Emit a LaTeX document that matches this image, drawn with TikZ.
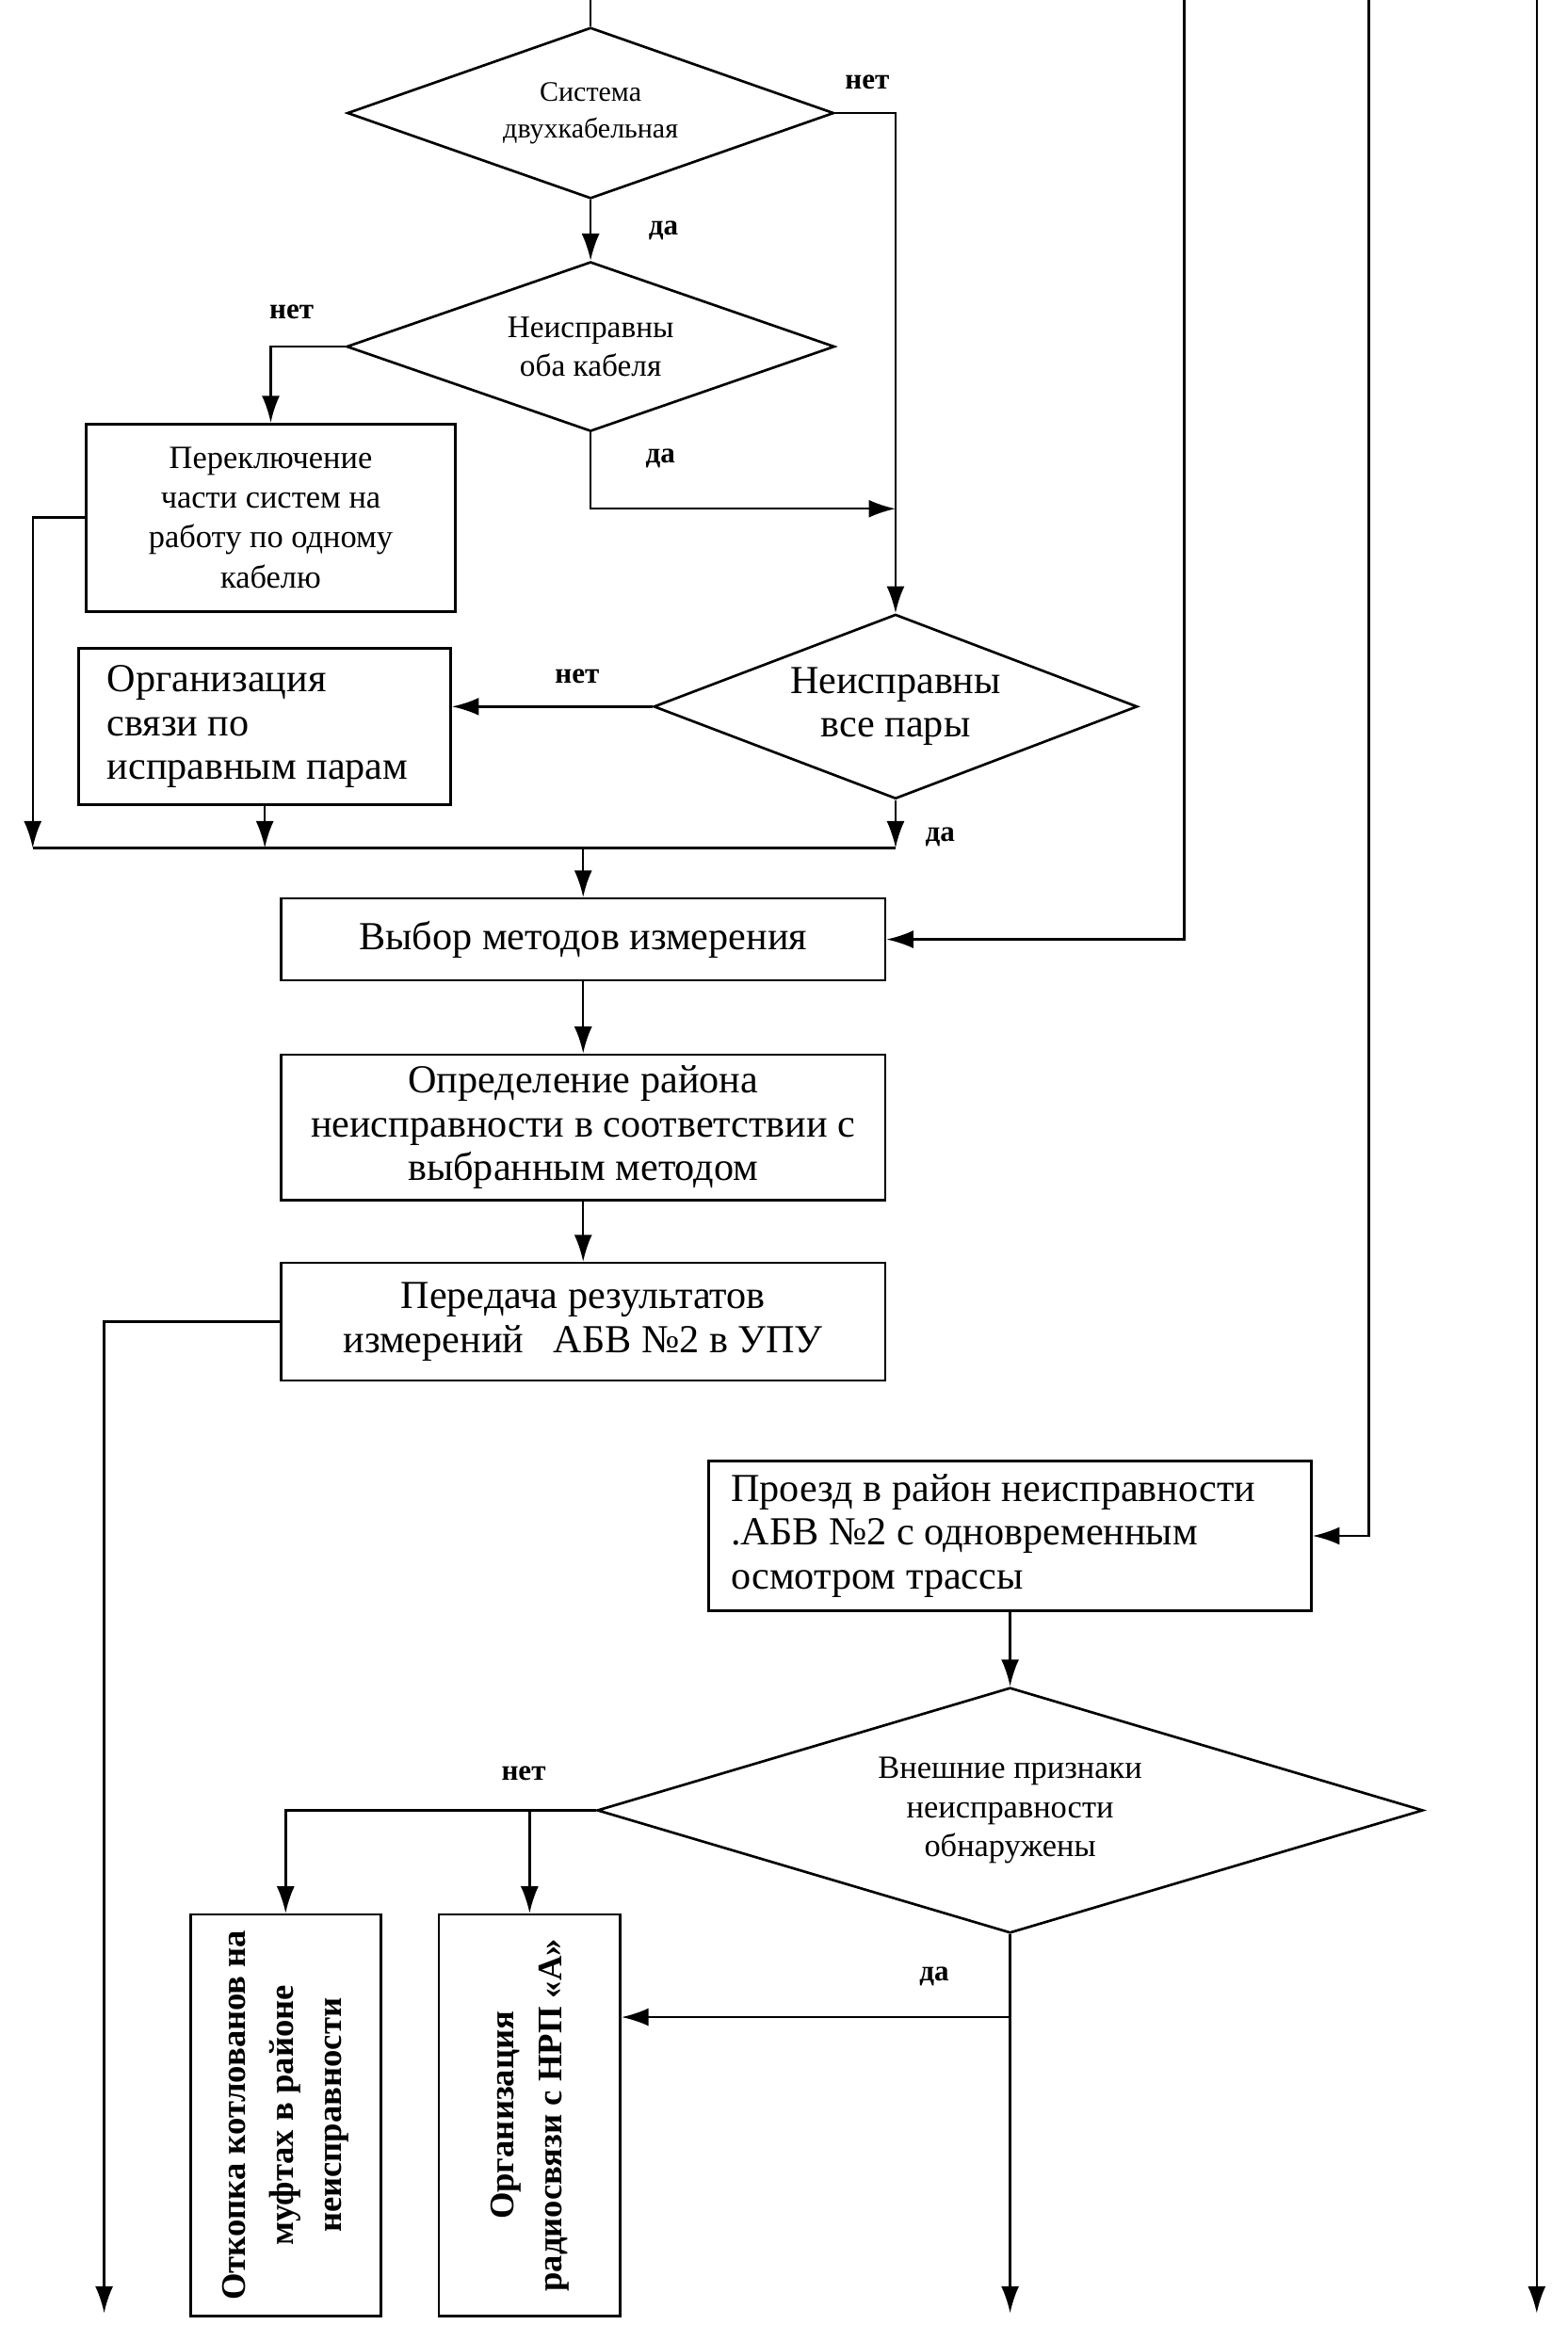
\documentclass[tikz,border=0pt]{standalone}
\usepackage{fontspec}
\setmainfont{Liberation Serif}
\usetikzlibrary{shapes.geometric,arrows.meta}

\tikzset{
  block/.style={draw, rectangle, line width=1.2pt, inner sep=0pt, align=center},
  decision/.style={draw, diamond, line width=1.2pt, inner sep=0pt, align=center, shape aspect=2.8},
  flow/.style={line width=1.1pt},
  arr/.style={flow, -{Latex[length=0.45cm,width=0.3cm]}},
  yesno/.style={font=\fontsize{14}{16}\selectfont\bfseries},
}

\begin{document}
\begin{tikzpicture}[x=0.025cm,y=-0.025cm]
\useasboundingbox (0,0) rectangle (1054,1563);

% upper part
\node[decision, minimum width=8.175cm, minimum height=2.875cm, font=\fontsize{13.5}{17.5}\selectfont] (sys) at (397,76) {Система\\двухкабельная};
\node[decision, minimum width=8.2cm, minimum height=2.85cm, font=\fontsize{15}{18.5}\selectfont] (both) at (397,233) {Неисправны\\оба кабеля};
\node[block, minimum width=6.2cm, minimum height=3.15cm, font=\fontsize{15.5}{19}\selectfont] (switch) at (182,348) {Переключение\\части систем на\\работу по одному\\кабелю};
\node[block, text width=5.3cm, inner xsep=0.475cm, align=flush left, minimum height=2.625cm, font=\fontsize{19}{21}\selectfont] (pairs) at (178,488.5) {Организация\\связи по\\исправным парам};
\node[decision, minimum width=8.125cm, minimum height=3.1cm, font=\fontsize{19}{20.5}\selectfont] (allpairs) at (602,475) {Неисправны\\все пары};

% middle part
\node[block, minimum width=10.15cm, minimum height=1.375cm, font=\fontsize{19}{21}\selectfont] (method) at (392,631.5) {Выбор методов измерения};
\node[block, minimum width=10.15cm, minimum height=2.45cm, font=\fontsize{19}{21}\selectfont] (locate) at (392,758) {Определение района\\неисправности в соответствии с\\выбранным методом};
\node[block, minimum width=10.15cm, minimum height=1.975cm, font=\fontsize{19}{21}\selectfont] (report) at (392,888.5) {Передача результатов\\измерений\ \ \ АБВ №2 в УПУ};

% lower part
\node[block, text width=9.375cm, inner xsep=0.375cm, align=flush left, minimum height=2.525cm, font=\fontsize{19}{21}\selectfont] (travel) at (679,1032.5) {Проезд в район неисправности\\.АБВ №2 с одновременным\\осмотром трассы};
\node[decision, minimum width=13.875cm, minimum height=4.125cm, font=\fontsize{15.5}{18.5}\selectfont] (signs) at (679,1217) {Внешние признаки\\неисправности\\обнаружены};
\node[block, rotate=90, minimum width=6.75cm, minimum height=3.2cm, font=\bfseries\fontsize{16.5}{23}\selectfont] (dig) at (192,1422) {Откопка котлованов на\\муфтах в районе\\неисправности};
\node[block, rotate=90, minimum width=6.75cm, minimum height=3.05cm, font=\bfseries\fontsize{16.5}{23}\selectfont] (radio) at (356,1422) {Организация\\радиосвязи с НРП «А»};

% labels
\node[yesno] (no1) at (583,55) {нет};
\node[yesno] (yes1) at (446,155) {да};
\node[yesno] (no2) at (196,210) {нет};
\node[yesno] (yes2) at (444,308) {да};
\node[yesno] (no3) at (388,455) {нет};
\node[yesno] (yes3) at (632,563) {да};
\node[yesno] (no4) at (352,1192) {нет};
\node[yesno] (yes4) at (628,1329) {да};

% free ends
\coordinate (topA) at (397,0);
\coordinate (topB) at (796,0);
\coordinate (topC) at (920,0);
\coordinate (topD) at (1033,0);
\coordinate (mergeL) at (22,570);
\coordinate (mergeR) at (602,570);
\coordinate (joinA) at (602,342);
\coordinate (branch) at (679,1356);
\coordinate (botA) at (70,1555);
\coordinate (botB) at (679,1555);
\coordinate (botD) at (1033,1555);

% connectors
\draw[flow] (topA) -- (sys.north);
\draw[arr] (sys.south) -- (both.north);
\draw[arr] (sys.east) -| (allpairs.north);
\draw[arr] (both.west) -| (switch.north);
\draw[arr] (both.south) |- (joinA);
\draw[arr] (switch.west) -| (mergeL);
\draw[arr] (allpairs.west) -- (allpairs.west -| pairs.east);
\draw[arr] (pairs.south) -- (pairs.south |- mergeL);
\draw[arr] (allpairs.south) -- (mergeR);
\draw[flow] (mergeL) -- (mergeR);
\draw[arr] (method.north |- mergeL) -- (method.north);
\draw[arr] (topB) |- (method.east);
\draw[arr] (method.south) -- (locate.north);
\draw[arr] (locate.south) -- (report.north);
\draw[arr] (report.west) -| (botA);
\draw[arr] (topC) |- (travel.east);
\draw[arr] (travel.south) -- (signs.north);
\draw[arr] (signs.west) -| (dig.east);
\draw[arr] (signs.west -| radio.east) -- (radio.east);
\draw[arr] (signs.south) -- (botB);
\draw[arr] (branch) -- (branch -| radio.south);
\draw[arr] (topD) -- (botD);
\end{tikzpicture}
\end{document}
